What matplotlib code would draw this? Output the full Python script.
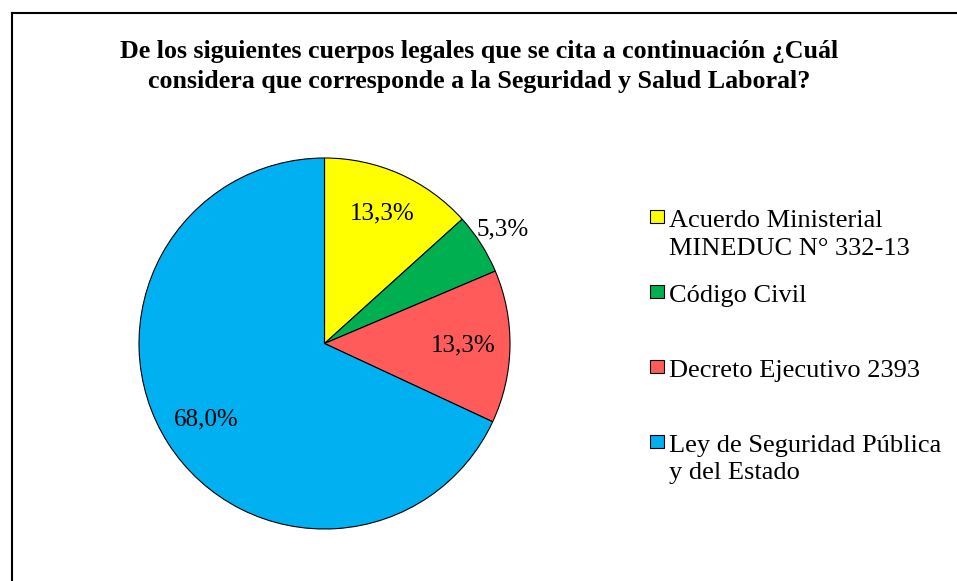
import matplotlib

matplotlib.use('Agg')
import matplotlib.pyplot as plt
import numpy as np
from matplotlib.lines import Line2D
from matplotlib.patches import Rectangle

plt.rcParams['font.family'] = 'Liberation Serif'

TITLE = ("De los siguientes cuerpos legales que se cita a continuación ¿Cuál\n"
         "considera que corresponde a la Seguridad y Salud Laboral?")
categories = ["Acuerdo Ministerial\nMINEDUC N° 332-13", "Código Civil",
              "Decreto Ejecutivo 2393", "Ley de Seguridad Pública\ny del Estado"]
shares = [13.3, 5.3, 13.3, 68.0]
colors = ["#FFFF00", "#00B050", "#FF5B5B", "#00B0F0"]
label_dist = [0.766, 1.139, 0.747, 0.758]

W, H = 957, 581
fig = plt.figure(figsize=(W / 100, H / 100), dpi=100)

# pie: centre (324.5, 343.5) px, radius 185.5 px
cx, cy, r = 324.5, 343.5, 185.5
ax = fig.add_axes([(cx - r) / W, (H - cy - r) / H, 2 * r / W, 2 * r / H])
wedges, _ = ax.pie(shares, colors=colors, startangle=90, counterclock=False,
                   radius=1, wedgeprops=dict(edgecolor='black', linewidth=0.8))
ax.set_xlim(-1, 1)
ax.set_ylim(-1, 1)
ax.axis('off')

for w, v, d in zip(wedges, shares, label_dist):
    ang = np.deg2rad((w.theta1 + w.theta2) / 2)
    ax.text(d * np.cos(ang), d * np.sin(ang), f"{v:.1f}".replace('.', ',') + '%',
            ha='center', va='center', fontsize=18, clip_on=False)

for i, line in enumerate(TITLE.split('\n')):
    fig.text(479 / W, 1 - (58 + i * 30) / H, line, ha='center', va='baseline',
             fontsize=18.7, fontweight='bold')

# legend, drawn by hand so the marker sits on the first line like the original
baselines = [227, 302, 377, 452]
for lab, col, yb in zip(categories, colors, baselines):
    fig.add_artist(Rectangle((650 / W, 1 - (yb - 4) / H), 14 / W, 13 / H,
                             facecolor=col, edgecolor='black', linewidth=0.8,
                             transform=fig.transFigure))
    for i, line in enumerate(lab.split('\n')):
        fig.text(669 / W, 1 - (yb + i * 27.5) / H, line, ha='left', va='baseline',
                 fontsize=19)

# outer frame (only left and top edges visible in the crop)
fig.add_artist(Line2D([11.5 / W, 11.5 / W], [0, 1 - 13 / H], color='black',
                      linewidth=1.5, transform=fig.transFigure))
fig.add_artist(Line2D([11.5 / W, 1], [1 - 13 / H, 1 - 13 / H], color='black',
                      linewidth=1.5, transform=fig.transFigure))

fig.savefig('out.png', dpi=100)
